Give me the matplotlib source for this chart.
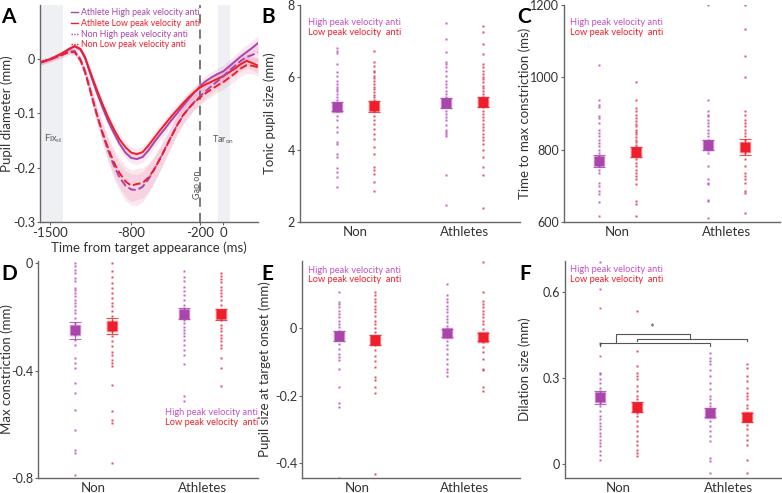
import matplotlib
matplotlib.use("Agg")
import matplotlib.pyplot as plt
from matplotlib.lines import Line2D

plt.rcParams['font.family'] = ['Lato', 'DejaVu Sans']
plt.rcParams['axes.unicode_minus'] = False
plt.rcParams['mathtext.fontset'] = 'custom'
plt.rcParams['mathtext.rm'] = 'Lato'
plt.rcParams['mathtext.it'] = 'Lato:italic'

PURPLE = '#a945ab'
RED = '#ee1f2b'
DOT_PURPLE = '#c052c2'
DOT_RED = '#e5384a'
TXT = '#333333'
SPINE = '#666666'

# ---- panel A: pupil traces ----
t_ms = [-1590, -1500, -1400, -1340, -1290, -1240, -1200, -1150, -1100, -1050, -1000,
        -950, -900, -850, -800, -750, -700, -650, -600, -550, -500, -450, -400, -350,
        -300, -250, -200, -150, -100, -50, 0, 50, 100, 150, 200, 250, 300]
ath_high = [-0.006, 0.000, 0.010, 0.018, 0.024, 0.018, 0.002, -0.030, -0.060, -0.088, -0.114,
            -0.136, -0.156, -0.172, -0.182, -0.184, -0.180, -0.168, -0.153, -0.139, -0.126,
            -0.112, -0.099, -0.086, -0.073, -0.061, -0.049, -0.040, -0.033, -0.027, -0.022,
            -0.013, -0.004, 0.005, 0.013, 0.021, 0.030]
ath_low = [-0.006, 0.000, 0.011, 0.019, 0.024, 0.019, 0.004, -0.026, -0.055, -0.082, -0.107,
           -0.129, -0.148, -0.162, -0.172, -0.175, -0.171, -0.159, -0.145, -0.131, -0.118,
           -0.105, -0.093, -0.081, -0.070, -0.060, -0.052, -0.046, -0.041, -0.036, -0.031,
           -0.024, -0.017, -0.009, -0.003, -0.007, -0.012]
non_high = [-0.006, 0.000, 0.008, 0.014, 0.015, 0.000, -0.022, -0.060, -0.100, -0.136, -0.168,
            -0.196, -0.218, -0.233, -0.240, -0.241, -0.235, -0.221, -0.203, -0.183, -0.162,
            -0.141, -0.121, -0.104, -0.090, -0.078, -0.068, -0.058, -0.049, -0.040, -0.031,
            -0.021, -0.012, -0.003, 0.004, 0.008, 0.012]
non_low = [-0.006, 0.000, 0.008, 0.013, 0.013, -0.002, -0.024, -0.062, -0.100, -0.134, -0.164,
           -0.190, -0.210, -0.225, -0.233, -0.230, -0.228, -0.218, -0.203, -0.184, -0.163,
           -0.142, -0.121, -0.103, -0.090, -0.079, -0.070, -0.062, -0.055, -0.048, -0.042,
           -0.034, -0.026, -0.017, -0.011, -0.012, -0.015]
se_ath = [0.004, 0.004, 0.004, 0.004, 0.005, 0.005, 0.006, 0.007, 0.008, 0.008, 0.009, 0.009,
          0.010, 0.010, 0.010, 0.010, 0.010, 0.010, 0.010, 0.010, 0.010, 0.010, 0.010, 0.010,
          0.010, 0.010, 0.010, 0.010, 0.010, 0.011, 0.011, 0.012, 0.012, 0.013, 0.013, 0.013, 0.014]
se_non = [0.005, 0.005, 0.005, 0.005, 0.006, 0.007, 0.009, 0.012, 0.015, 0.018, 0.021, 0.024,
          0.026, 0.028, 0.029, 0.029, 0.028, 0.026, 0.024, 0.022, 0.020, 0.018, 0.017, 0.016,
          0.015, 0.014, 0.014, 0.013, 0.013, 0.013, 0.013, 0.013, 0.014, 0.014, 0.015, 0.015, 0.016]
fix_span = (-1590, -1390)
tar_span = (-50, 60)
gap_on = -200

# ---- scatter panels: order Non-high, Non-low, Athletes-high, Athletes-low ----
groups = ['Non', 'Athletes']

b_vals = [
    [6.81, 6.73, 6.67, 6.37, 6.14, 6.05, 5.91, 5.82, 5.74, 5.68, 5.61, 5.54, 5.45, 5.36, 5.27,
     5.19, 5.08, 4.94, 4.81, 4.62, 4.49, 4.21, 4.15, 3.87, 3.80, 3.48, 3.39, 3.25, 2.98],
    [6.73, 6.43, 6.32, 6.18, 6.14, 6.05, 5.98, 5.91, 5.82, 5.74, 5.68, 5.59, 5.50, 5.45, 5.36,
     5.27, 5.19, 5.08, 4.94, 4.81, 4.72, 4.58, 4.44, 4.30, 4.08, 3.89, 3.52, 3.43, 3.34, 3.11, 2.86],
    [7.49, 7.06, 6.69, 6.41, 6.37, 6.28, 6.18, 6.05, 5.91, 5.82, 5.72, 5.63, 5.54, 5.45, 5.36,
     5.31, 5.27, 5.17, 5.08, 4.99, 4.90, 4.81, 4.67, 4.54, 4.49, 4.44, 4.39, 3.30, 2.47],
    [7.42, 7.24, 6.92, 6.64, 6.37, 6.28, 6.18, 6.09, 6.00, 5.94, 5.86, 5.77, 5.71, 5.63, 5.54,
     5.45, 5.36, 5.27, 5.17, 5.08, 4.99, 4.90, 4.81, 4.72, 4.62, 4.53, 4.44, 4.35, 4.26, 4.17,
     3.99, 3.80, 3.52, 3.29, 2.38],
]
b_mean = [5.19, 5.20, 5.30, 5.32]
b_se = [0.13, 0.15, 0.14, 0.14]

c_vals = [
    [1035, 938, 924, 919, 892, 887, 873, 855, 846, 837, 828, 818, 809, 800, 791, 782, 773, 764,
     754, 745, 736, 709, 700, 686, 677, 654, 616],
    [986, 938, 915, 906, 897, 887, 878, 872, 865, 855, 848, 842, 835, 828, 820, 814, 808, 800,
     791, 782, 773, 764, 754, 745, 736, 727, 718, 704, 658, 649, 616],
    [1200, 938, 906, 897, 892, 883, 874, 865, 855, 846, 837, 828, 818, 809, 800, 791, 754, 718,
     709, 704, 662, 658, 612],
    [1200, 1133, 1059, 1002, 906, 897, 883, 874, 865, 855, 846, 837, 828, 809, 791, 773, 754,
     736, 727, 718, 709, 686, 681, 626],
]
c_mean = [769, 793, 813, 807]
c_se = [16, 14, 15, 22]

d_vals = [
    [0.0, -0.010, -0.025, -0.037, -0.056, -0.068, -0.093, -0.099, -0.112, -0.124, -0.136, -0.149,
     -0.161, -0.174, -0.186, -0.205, -0.223, -0.236, -0.248, -0.267, -0.285, -0.304, -0.353,
     -0.372, -0.391, -0.446, -0.484, -0.546, -0.620, -0.694, -0.707, -0.790],
    [0.0, -0.031, -0.050, -0.074, -0.093, -0.112, -0.130, -0.149, -0.161, -0.180, -0.198, -0.217,
     -0.229, -0.236, -0.254, -0.273, -0.291, -0.310, -0.329, -0.341, -0.360, -0.372, -0.384,
     -0.453, -0.552, -0.583, -0.595, -0.744],
    [-0.031, -0.050, -0.068, -0.087, -0.105, -0.118, -0.136, -0.155, -0.167, -0.180, -0.192,
     -0.211, -0.223, -0.236, -0.248, -0.260, -0.273, -0.285, -0.304, -0.322, -0.341, -0.375,
     -0.496, -0.515],
    [-0.035, -0.047, -0.060, -0.072, -0.087, -0.099, -0.112, -0.124, -0.139, -0.155, -0.174,
     -0.192, -0.211, -0.229, -0.242, -0.254, -0.267, -0.279, -0.291, -0.304, -0.316, -0.353,
     -0.391, -0.459],
]
d_mean = [-0.250, -0.233, -0.188, -0.190]
d_se = [0.032, 0.030, 0.020, 0.020]

e_vals = [
    [0.107, 0.077, 0.072, 0.062, 0.052, 0.042, 0.033, 0.023, 0.013, 0.003, -0.007, -0.022,
     -0.032, -0.046, -0.061, -0.076, -0.086, -0.093, -0.120, -0.175, -0.222, -0.234, -0.446],
    [0.107, 0.100, 0.087, 0.077, 0.067, 0.057, 0.047, 0.038, 0.023, 0.013, 0.001, -0.012,
     -0.027, -0.037, -0.051, -0.066, -0.081, -0.096, -0.114, -0.145, -0.153, -0.175, -0.193, -0.434],
    [0.133, 0.100, 0.087, 0.077, 0.067, 0.057, 0.047, 0.038, 0.028, 0.018, 0.008, -0.002,
     -0.017, -0.027, -0.037, -0.051, -0.061, -0.076, -0.091, -0.106, -0.120, -0.130, -0.143],
    [0.196, 0.107, 0.082, 0.072, 0.062, 0.052, 0.042, 0.033, 0.023, 0.013, -0.002, -0.017,
     -0.032, -0.041, -0.056, -0.071, -0.091, -0.120, -0.125, -0.175, -0.185],
]
e_mean = [-0.022, -0.035, -0.015, -0.027]
e_se = [0.015, 0.015, 0.012, 0.012]

f_vals = [
    [0.708, 0.612, 0.547, 0.424, 0.418, 0.377, 0.319, 0.313, 0.295, 0.284, 0.266, 0.255, 0.243,
     0.225, 0.213, 0.202, 0.184, 0.166, 0.155, 0.143, 0.131, 0.120, 0.108, 0.096, 0.084, 0.073,
     0.061, 0.043, 0.032, 0.014],
    [0.536, 0.395, 0.342, 0.319, 0.307, 0.295, 0.272, 0.254, 0.237, 0.225, 0.207, 0.196, 0.178,
     0.166, 0.149, 0.131, 0.114, 0.096, 0.079, 0.067, 0.049, 0.038, 0.028],
    [0.389, 0.371, 0.360, 0.348, 0.330, 0.307, 0.284, 0.260, 0.237, 0.225, 0.213, 0.202, 0.190,
     0.178, 0.166, 0.149, 0.131, 0.114, 0.096, 0.079, 0.020, 0.008, -0.033],
    [0.348, 0.336, 0.307, 0.289, 0.266, 0.248, 0.237, 0.225, 0.207, 0.196, 0.178, 0.166, 0.149,
     0.137, 0.120, 0.102, 0.084, 0.067, 0.012, -0.033],
]
f_mean = [0.232, 0.198, 0.178, 0.163]
f_se = [0.022, 0.018, 0.016, 0.016]

# significance bracket in F: (x positions of group columns, heights)
sig_left = (0.83, 1.83, 0.422)
sig_right = (1.17, 2.17, 0.438)
sig_join = (0.975, 1.655, 0.455)
sig_star = (1.30, 0.475)

offset = 0.17


def style_axes(ax):
    for s in ['top', 'right']:
        ax.spines[s].set_visible(False)
    for s in ['left', 'bottom']:
        ax.spines[s].set_color(SPINE)
        ax.spines[s].set_linewidth(1.0)
    ax.tick_params(axis='both', colors=SPINE, labelcolor=TXT, labelsize=9,
                   length=2.5, width=0.8, pad=1)


def scatter_panel(ax, vals, means, ses, ylim, yticks, yticklabels, ylabel, ylab_x, leg_xy, xlim):
    style_axes(ax)
    xs = [1 - offset, 1 + offset, 2 - offset, 2 + offset]
    dcols = [DOT_PURPLE, DOT_RED, DOT_PURPLE, DOT_RED]
    mcols = [PURPLE, RED, PURPLE, RED]
    for x, v, dc in zip(xs, vals, dcols):
        ax.plot([x] * len(v), v, 's', ms=1.8, color=dc, mec='none', alpha=0.9)
    for x, m, se, mc in zip(xs, means, ses, mcols):
        ax.plot(x, m, 's', ms=9, color=mc, alpha=0.25, mec='none')
        ax.errorbar(x, m, yerr=se, color=mc, capsize=4, elinewidth=0.8, capthick=0.8,
                    fmt='none', alpha=0.8)
        ax.plot(x, m, 's', ms=6.5, color=mc, mec='none')
    ax.set_xlim(*xlim)
    ax.set_ylim(*ylim)
    ax.set_xticks([1, 2])
    ax.set_xticklabels(groups, fontsize=9.5)
    ax.tick_params(axis='x', length=0, pad=3)
    ax.set_yticks(yticks)
    ax.set_yticklabels(yticklabels)
    ax.set_ylabel(ylabel, fontsize=9.5, color=TXT)
    ax.yaxis.set_label_coords(ylab_x, 0.5)
    lx, ly1, ly2 = leg_xy
    ax.text(lx, ly1, 'High peak velocity anti', transform=ax.transAxes, color=DOT_PURPLE,
            fontsize=6.7, va='center', ha='left')
    ax.text(lx, ly2, 'Low peak velocity  anti', transform=ax.transAxes, color=RED,
            fontsize=6.7, va='center', ha='left')


fig = plt.figure(figsize=(7.82, 4.93), dpi=100)

# panel A
axA = fig.add_axes([0.0512, 0.5497, 0.2788, 0.4402])
style_axes(axA)
axA.axvspan(*fix_span, color='#eef0f4', lw=0)
axA.axvspan(*tar_span, color='#eef0f4', lw=0)
axA.axvline(gap_on, color='#555555', lw=1.1, dashes=(6, 4))
lines = [
    (ath_high, se_ath, PURPLE, '-', 'Athlete High peak velocity anti'),
    (ath_low, se_ath, RED, '-', 'Athlete Low peak velocity  anti'),
    (non_high, se_non, PURPLE, '--', 'Non High peak velocity anti'),
    (non_low, se_non, RED, '--', 'Non Low peak velocity anti'),
]
for y, se, c, ls, lab in lines:
    lo = [a - b for a, b in zip(y, se)]
    hi = [a + b for a, b in zip(y, se)]
    axA.fill_between(t_ms, lo, hi, color='#e07ab8' if c == PURPLE else '#f07a9a',
                     alpha=0.18, lw=0)
for y, se, c, ls, lab in lines:
    if ls == '-':
        axA.plot(t_ms, y, color=c, lw=1.4)
    else:
        axA.plot(t_ms, y, color=c, lw=1.4, dashes=(4, 1.6))
axA.set_xlim(-1590, 300)
axA.set_ylim(-0.3, 0.1)
axA.set_xticks([-1500, -800, -200, 0])
axA.set_xticklabels(['-1500', '-800', '-200', '0'], fontsize=9.5)
axA.set_yticks([0, -0.1, -0.2, -0.3])
axA.set_yticklabels(['0', '-0.1', '-0.2', '-0.3'])
axA.set_xlabel('Time from target appearance (ms)', fontsize=9.5, color=TXT, labelpad=2)
axA.set_ylabel('Pupil diameter (mm)', fontsize=9.5, color=TXT)
axA.yaxis.set_label_coords(-0.125, 0.5)
axA.text(-1470, -0.146, r'Fix$_{\rm st}$', fontsize=6.5, color='#555555', ha='center', va='center')
axA.text(0, -0.148, r'Tar$_{\rm on}$', fontsize=6.5, color='#555555', ha='center', va='center')
axA.text(-228, -0.232, 'Gap on', fontsize=6.5, color='#555555', rotation=90,
         ha='center', va='center')
handles = [
    Line2D([], [], color=PURPLE, lw=1.0),
    Line2D([], [], color=RED, lw=1.0),
    Line2D([], [], color=PURPLE, lw=1.0, ls=(0, (1, 1))),
    Line2D([], [], color=RED, lw=1.0, ls=(0, (1, 1))),
]
leg = axA.legend(handles, [l[4] for l in lines], loc='upper left', bbox_to_anchor=(0.14, 0.985),
                 frameon=False, fontsize=6.3, handlelength=0.9, handletextpad=0.3,
                 labelspacing=0.2, borderpad=0, borderaxespad=0)
for txt, (_, _, c, _, _) in zip(leg.get_texts(), lines):
    txt.set_color(c)

# panel B
axB = fig.add_axes([0.3836, 0.5497, 0.2813, 0.4402])
scatter_panel(axB, b_vals, b_mean, b_se, (2, 8), [2, 4, 6, 8], ['2', '4', '6', '8'],
              'Tonic pupil size (mm)', -0.109, (0.036, 0.917, 0.872), (0.49, 2.51))

# panel C
axC = fig.add_axes([0.7212, 0.5497, 0.2762, 0.4402])
scatter_panel(axC, c_vals, c_mean, c_se, (600, 1200), [600, 800, 1000, 1200],
              ['600', '800', '1000', '1200'], 'Time to max constriction (ms)', -0.153,
              (0.028, 0.917, 0.872), (0.51, 2.49))

# panel D
axD = fig.add_axes([0.0486, 0.0304, 0.2813, 0.4402])
scatter_panel(axD, d_vals, d_mean, d_se, (-0.8, 0.008), [0, -0.4, -0.8], ['0', '-0.4', '-0.8'],
              'Max constriction (mm)', -0.115, (0.577, 0.304, 0.258), (0.49, 2.51))

# panel E
axE = fig.add_axes([0.3862, 0.0304, 0.2788, 0.4402])
scatter_panel(axE, e_vals, e_mean, e_se, (-0.445, 0.2), [0, -0.2, -0.4], ['0', '-0.2', '-0.4'],
              'Pupil size at target onset (mm)', -0.14, (0.026, 0.958, 0.917), (0.49, 2.51))

# panel F
axF = fig.add_axes([0.7225, 0.0304, 0.2775, 0.4402])
scatter_panel(axF, f_vals, f_mean, f_se, (-0.05, 0.71), [0, 0.3, 0.6], ['0', '0.3', '0.6'],
              'Dilation size (mm)', -0.157, (0.023, 0.962, 0.917), (0.51, 2.49))
bc = '#555555'
for x0, x1, h in [sig_left, sig_right]:
    axF.plot([x0, x0, x1, x1], [h - 0.008, h, h, h - 0.008], color=bc, lw=0.8)
jx0, jx1, jh = sig_join
axF.plot([jx0, jx0, jx1, jx1], [sig_left[2], jh, jh, sig_right[2]], color=bc, lw=0.8)
axF.text(sig_star[0], sig_star[1], '*', color=bc, fontsize=8, ha='center', va='center')

# panel letters
for lab, x, y in [('A', 0.002, 0.985), ('B', 0.334, 0.985), ('C', 0.662, 0.985),
                  ('D', 0.002, 0.465), ('E', 0.334, 0.465), ('F', 0.664, 0.465)]:
    fig.text(x, y, lab, fontsize=15, fontweight='bold', ha='left', va='top', color='black')

fig.savefig('out.png', dpi=100)
